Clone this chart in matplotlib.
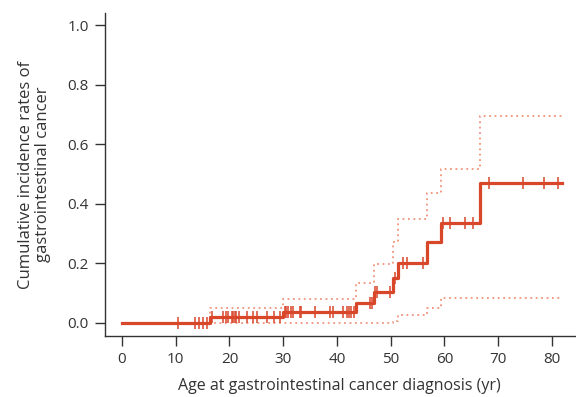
import numpy as np
import matplotlib
matplotlib.use("Agg")
import matplotlib.pyplot as plt

plt.rcParams['font.family'] = ['Open Sans', 'DejaVu Sans']

# Step function: event times and cumulative incidence after each step
step_times = [0, 16.4, 29.9, 43.5, 46.9, 50.5, 51.4, 56.8, 59.3, 66.7, 82.0]
cum_inc    = [0.0, 0.021, 0.037, 0.068, 0.103, 0.15, 0.202, 0.27, 0.335, 0.469, 0.469]
upper_ci   = [0.0, 0.049, 0.08, 0.135, 0.197, 0.27, 0.348, 0.437, 0.517, 0.695, 0.695]
lower_ci   = [0.0, 0.0, 0.0, 0.0, 0.0, 0.005, 0.027, 0.049, 0.083, 0.083, 0.083]

# Censoring times
censor_times = [10.4, 13.6, 14.4, 15.1, 15.8,
                16.8, 18.8, 19.3, 19.8, 20.4, 20.7, 21.0, 21.3, 21.8, 23.2, 24.4, 25.1,
                26.9, 28.2, 29.4,
                30.3, 30.6, 30.9, 31.4, 31.9, 33.1, 33.4, 35.9, 38.7, 39.3, 41.2, 41.8,
                42.3, 42.7, 43.2,
                46.1, 46.6, 47.1, 47.5, 49.9, 50.8, 52.3, 53.0, 56.1,
                59.8, 61.0, 63.9, 65.4, 68.3, 74.7, 78.5, 81.2]

main_c = '#d9472b'
ci_c = '#f2937a'

fig = plt.figure(figsize=(5.76, 3.97), dpi=100)
ax = fig.add_axes([0.182, 0.1537, 0.816, 0.813])

ax.step(step_times, upper_ci, where='post', color=ci_c, lw=1.3, ls=(0, (1, 2)))
ax.step(step_times, lower_ci, where='post', color=ci_c, lw=1.3, ls=(0, (1, 2)))
ax.step(step_times, cum_inc, where='post', color=main_c, lw=2.3)

ct = np.array(censor_times)
idx = np.searchsorted(step_times, ct, side='right') - 1
cy = np.array(cum_inc)[idx]
ax.plot(ct, cy, ls='none', marker='|', ms=8, mew=1.1, color=main_c)

ax.set_xlim(-3.2, 84.3)
ax.set_ylim(-0.044, 1.04)
ax.set_xticks(np.arange(0, 81, 10))
ax.set_yticks([0.0, 0.2, 0.4, 0.6, 0.8, 1.0])
ax.set_yticklabels(['0.0', '0.2', '0.4', '0.6', '0.8', '1.0'])
for s in ['top', 'right']:
    ax.spines[s].set_visible(False)
for s in ['left', 'bottom']:
    ax.spines[s].set_color('#333333')
    ax.spines[s].set_linewidth(1.0)
ax.tick_params(axis='both', length=7, width=1.0, color='#333333',
               labelsize=11, labelcolor='#333333', pad=4.5)
ax.set_xlabel('Age at gastrointestinal cancer diagnosis (yr)', fontsize=11.5,
              color='#333333', labelpad=8)
ax.set_ylabel('Cumulative incidence rates of\ngastrointestinal cancer', fontsize=12,
              color='#333333', labelpad=12, linespacing=1.1)

fig.savefig('out.png', dpi=100)
